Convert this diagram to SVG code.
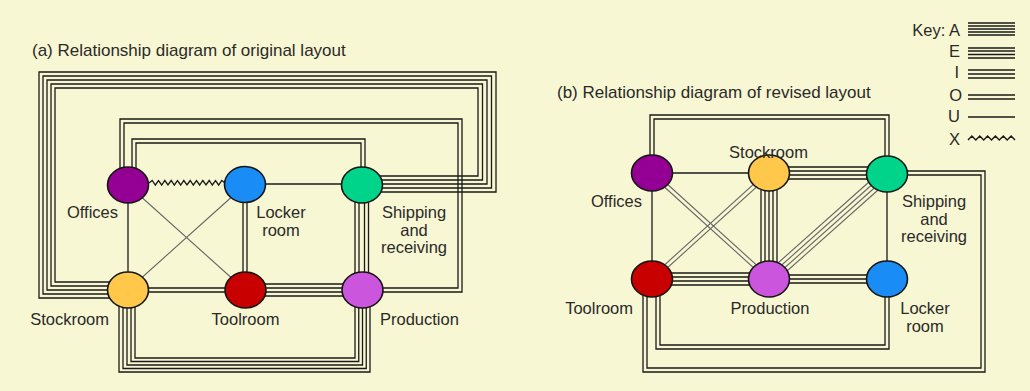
<svg xmlns="http://www.w3.org/2000/svg" width="1030" height="391" viewBox="0 0 1030 391">
<style>
.ln{fill:none;stroke:#1a1a1a;stroke-width:1.3}
.dg{fill:none;stroke:#666;stroke-width:1.1}
.kl{fill:none;stroke:#1a1a1a;stroke-width:1.4}
.nd{stroke:#151515;stroke-width:1.6}
text{font-family:"Liberation Sans",Arial,sans-serif;fill:#2a2a2a}
.lb{font-size:16.5px}
.tt{font-size:17px}
.mid{text-anchor:middle}
.end{text-anchor:end}
</style>
<rect width="1030" height="391" fill="#f8f7d3"/>

<text class="tt" x="32" y="56">(a)  Relationship diagram of original layout</text>
<text class="tt" x="557" y="98">(b)  Relationship diagram of revised layout</text>

<g id="key">
<text class="lb end" x="960" y="36">Key: A</text>
<text class="lb end" x="960" y="57">E</text>
<text class="lb end" x="959" y="78">I</text>
<text class="lb end" x="962" y="101">O</text>
<text class="lb end" x="960" y="122">U</text>
<text class="lb end" x="960" y="145">X</text>
<path class="kl" d="M968,23H1015M968,26H1015M968,29H1015M968,32H1015M968,35H1015"/>
<path class="kl" d="M968,48H1015M968,51H1015M968,54.5H1015M968,58H1015"/>
<path class="kl" d="M968,70H1015M968,74H1015M968,78H1015"/>
<path class="kl" d="M968,95H1015M968,99H1015"/>
<path class="kl" d="M968,117H1015"/>
<polyline class="kl" points="968,140 971.9,136 975.8,140 979.8,136 983.7,140 987.6,136 991.5,140 995.4,136 999.3,140 1003.3,136 1007.2,140 1011.1,136 1015,140"/>
</g>

<g id="connectors-a">
<path class="ln" d="M362,192H496V72H39V298H128"/>
<path class="ln" d="M362,188H491.5V76H43V294H128"/>
<path class="ln" d="M362,184H487V80H47V290H128"/>
<path class="ln" d="M362,180H482.5V84H51V286H128"/>
<path class="ln" d="M362,176H478V88H55V282H128"/>
<path class="ln" d="M120,185V119H462V292H362"/>
<path class="ln" d="M124,185V123H458V288H362"/>
<path class="ln" d="M132,185V139H365V185"/>
<path class="ln" d="M136,185V143H361V185"/>
<path class="ln" d="M119,290V372H370V290"/>
<path class="ln" d="M123,290V368.5H366.25V290"/>
<path class="ln" d="M127,290V365H362.5V290"/>
<path class="ln" d="M131,290V361.5H358.75V290"/>
<path class="ln" d="M135,290V358H355V290"/>
<path class="ln" d="M128,185V290"/>
<polyline class="ln" points="149,183 152.2,180.5 155.3,185 158.5,180.5 161.7,185 164.8,180.5 168,185 171.2,180.5 174.3,185 177.5,180.5 180.7,185 183.8,180.5 187,185 190.2,180.5 193.3,185 196.5,180.5 199.7,185 202.8,180.5 206,185 209.2,180.5 212.3,185 215.5,180.5 218.7,185 221.8,180.5 225,183"/>
<path class="dg" d="M128,185L245,290M245,185L128,290"/>
<path class="ln" d="M245,184H362"/>
<path class="ln" d="M243,185V290M247,185V290"/>
<path class="ln" d="M128,288H245M128,292H245"/>
<path class="ln" d="M245,284H362M245,288H362M245,292H362M245,296H362"/>
<path class="ln" d="M355,185V290M359,185V290M364.5,185V290M368.5,185V290"/>
</g>

<g id="connectors-b">
<path class="ln" d="M650,173V115H889V174"/>
<path class="ln" d="M654,173V119H885V174"/>
<path class="ln" d="M643,279V372H985V171H887"/>
<path class="ln" d="M647,279V368H981V175H887"/>
<path class="ln" d="M656,279V349H889V279"/>
<path class="ln" d="M660,279V345H885V279"/>
<path class="ln" d="M769,167H887M769,171H887M769,175H887M769,179H887"/>
<path class="ln" d="M761,173V279M765,173V279M769,173V279M773,173V279M777,173V279"/>
<path class="ln" d="M652,273H769M652,277H769M652,281H769M652,285H769"/>
<path class="ln" d="M769,275H887M769,279H887M769,283H887"/>
<path class="ln" d="M652,173H769"/>
<path class="ln" d="M652,173V279"/>
<path class="ln" d="M887,174V279"/>
<path class="dg" d="M650.66,174.48L767.66,280.48M653.34,171.52L770.34,277.52"/>
<path class="dg" d="M770.34,174.48L653.34,280.48M767.66,171.52L650.66,277.52"/>
<path class="dg" d="M883.01,169.52L765.01,274.52M885.67,172.51L767.67,277.51M888.33,175.49L770.33,280.49M890.99,178.48L772.99,283.48"/>
</g>

<g id="a-offices"><ellipse class="nd" cx="128" cy="185" rx="20.5" ry="18" fill="#930093"/><text class="lb end" x="118" y="218">Offices</text></g>
<g id="a-locker"><ellipse class="nd" cx="245" cy="184.5" rx="20.5" ry="18" fill="#1a8cf5"/><text class="lb mid" x="281" y="218">Locker</text><text class="lb mid" x="281" y="236">room</text></g>
<g id="a-shipping"><ellipse class="nd" cx="362" cy="185" rx="20.5" ry="18" fill="#00d48a"/><text class="lb mid" x="414" y="218">Shipping</text><text class="lb mid" x="414" y="235.5">and</text><text class="lb mid" x="414" y="252.5">receiving</text></g>
<g id="a-stockroom"><ellipse class="nd" cx="128" cy="290" rx="20.5" ry="18" fill="#ffc84a"/><text class="lb end" x="109" y="325">Stockroom</text></g>
<g id="a-toolroom"><ellipse class="nd" cx="245.5" cy="290" rx="20.5" ry="18" fill="#c80000"/><text class="lb mid" x="245.5" y="325">Toolroom</text></g>
<g id="a-production"><ellipse class="nd" cx="362.5" cy="290" rx="20.5" ry="18" fill="#cc55dd"/><text class="lb start" x="380" y="325">Production</text></g>

<g id="b-offices"><ellipse class="nd" cx="652" cy="173" rx="20.5" ry="18" fill="#930093"/><text class="lb end" x="642" y="207">Offices</text></g>
<g id="b-stockroom"><ellipse class="nd" cx="769" cy="173" rx="20.5" ry="18" fill="#ffc84a"/><text class="lb mid" x="768.5" y="158">Stockroom</text></g>
<g id="b-shipping"><ellipse class="nd" cx="887" cy="174" rx="20.5" ry="18" fill="#00d48a"/><text class="lb mid" x="934" y="207">Shipping</text><text class="lb mid" x="934" y="224.5">and</text><text class="lb mid" x="934" y="242">receiving</text></g>
<g id="b-toolroom"><ellipse class="nd" cx="652" cy="279" rx="20.5" ry="18" fill="#c80000"/><text class="lb end" x="633" y="314">Toolroom</text></g>
<g id="b-production"><ellipse class="nd" cx="769" cy="279" rx="20.5" ry="18" fill="#cc55dd"/><text class="lb mid" x="770" y="314">Production</text></g>
<g id="b-locker"><ellipse class="nd" cx="887" cy="279" rx="20.5" ry="18" fill="#1a8cf5"/><text class="lb mid" x="925" y="314">Locker</text><text class="lb mid" x="925" y="332">room</text></g>
</svg>
